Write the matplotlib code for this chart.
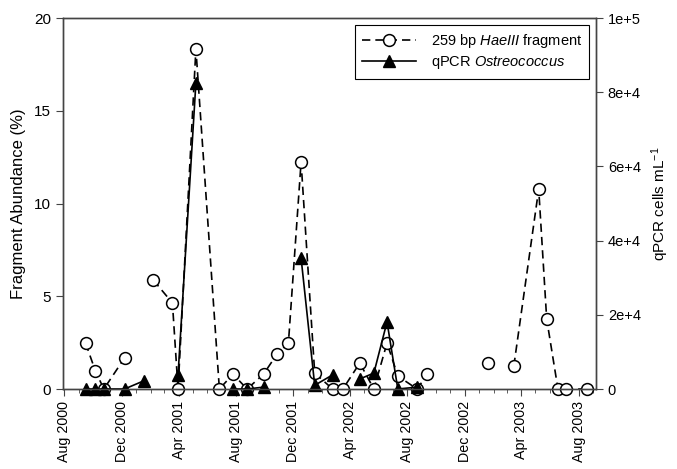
import numpy as np
import matplotlib
matplotlib.use("Agg")
import matplotlib.pyplot as plt
import matplotlib.dates as mdates
from matplotlib.ticker import FixedLocator
import datetime as dt

plt.rcParams['font.family'] = ['Liberation Sans', 'DejaVu Sans']
plt.rcParams['mathtext.fontset'] = 'custom'
plt.rcParams['mathtext.rm'] = 'Liberation Sans'
plt.rcParams['mathtext.it'] = 'Liberation Sans:italic'

nan = np.nan
# Sampling dates (shared by both series; NaN marks a missing value)
dates = ["2000-09-15", "2000-10-06", "2000-10-24", "2000-12-07", "2001-01-17",
         "2001-02-06", "2001-03-19", "2001-03-31", "2001-05-08", "2001-06-27",
         "2001-07-26", "2001-08-25", "2001-09-29", "2001-10-28", "2001-11-21",
         "2001-12-18", "2002-01-16", "2002-02-23", "2002-03-17", "2002-04-22",
         "2002-05-22", "2002-06-19", "2002-07-12", "2002-08-22", "2002-09-13",
         "2002-11-15", "2003-01-19", "2003-02-15", "2003-03-16", "2003-05-08",
         "2003-05-25", "2003-06-18", "2003-07-05", "2003-08-19"]

fragment_pct = [2.48, 0.97, 0.0, 1.67, nan,
                5.88, 4.64, 0.0, 18.33, 0.0,
                0.8, 0.0, 0.8, 1.89, 2.48,
                12.24, 0.86, 0.0, 0.0, 1.4,
                0.0, 2.48, 0.7, 0.0, 0.8,
                nan, 1.4, nan, 1.24, 10.78,
                3.77, 0.0, 0.0, 0.0]

qpcr_cells = [0, 0, 0, 0, 2200,
              nan, nan, 3800, 82500, nan,
              0, 0, 500, nan, nan,
              35300, 1000, 3800, nan, 2700,
              4300, 18100, 0, 500, nan,
              nan, nan, nan, nan, nan,
              nan, nan, nan, nan]

left_ticks = [0, 5, 10, 15, 20]
right_ticks = [0, 2e4, 4e4, 6e4, 8e4, 1e5]
right_labels = ["0", "2e+4", "4e+4", "6e+4", "8e+4", "1e+5"]
x_tick_dates = ["2000-08-01", "2000-12-01", "2001-04-01", "2001-08-01", "2001-12-01",
                "2002-04-01", "2002-08-01", "2002-12-01", "2003-04-01", "2003-08-01"]

d = [dt.datetime.strptime(s, "%Y-%m-%d") for s in dates]

fig = plt.figure(figsize=(6.77, 4.69), dpi=100)
ax = fig.add_axes([63/677, 1-389/469, (596-63)/677, (389-18)/469])
ax2 = ax.twinx()

l1, = ax.plot(d, fragment_pct, color='black', linestyle=(0, (5, 3)), linewidth=1.2,
              marker='o', markersize=8.5, markerfacecolor='white',
              markeredgecolor='black', markeredgewidth=1.1, clip_on=False,
              label=r'259 bp $\mathit{HaeIII}$ fragment')
l2, = ax2.plot(d, qpcr_cells, color='black', linestyle='-', linewidth=1.2,
               marker='^', markersize=8.5, markerfacecolor='black',
               markeredgecolor='black', clip_on=False,
               label=r'qPCR $\mathit{Ostreococcus}$')

ax.set_xlim(dt.datetime(2000, 7, 29), dt.datetime(2003, 9, 7))
ax.set_ylim(0, 20)
ax2.set_ylim(0, 1e5)

ax.set_yticks(left_ticks)
ax2.yaxis.set_major_locator(FixedLocator(right_ticks))
ax2.set_yticklabels(right_labels)

xt = [dt.datetime.strptime(s, "%Y-%m-%d") for s in x_tick_dates]
ax.xaxis.set_major_locator(FixedLocator(mdates.date2num(xt)))
ax.xaxis.set_major_formatter(mdates.DateFormatter("%b %Y"))
ax.xaxis.set_minor_locator(mdates.MonthLocator())
for lab in ax.get_xticklabels():
    lab.set_rotation(90)

spine_col = '#444444'
for a in (ax, ax2):
    for s in a.spines.values():
        s.set_color(spine_col)
        s.set_linewidth(1.0)
    a.tick_params(axis='both', which='both', direction='out', colors=spine_col,
                  labelcolor='black', labelsize=10.5)
ax.tick_params(axis='x', which='major', length=5, labelsize=10.3)
ax.tick_params(axis='x', which='minor', length=3)
ax.tick_params(axis='y', length=5, labelsize=11)
ax2.tick_params(axis='y', length=5, labelsize=10.5)

ax.set_ylabel("Fragment Abundance (%)", fontsize=12, labelpad=6)
ax2.set_ylabel(r"qPCR cells mL$^{\mathregular{-1}}$", fontsize=11, labelpad=6)

leg = ax2.legend(handles=[l1, l2], loc='upper right', fontsize=10.5,
                 frameon=True, fancybox=False, framealpha=1, edgecolor='black',
                 handlelength=3.7, handletextpad=1.0, borderaxespad=0.45,
                 borderpad=0.5, labelspacing=0.3)
leg.get_frame().set_linewidth(0.8)

fig.savefig("out.png", dpi=100)
